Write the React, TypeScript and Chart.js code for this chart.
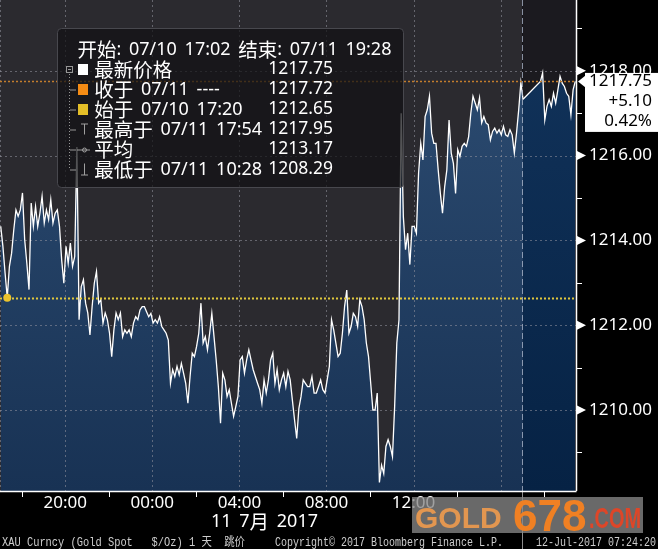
import React, { useEffect, useRef } from 'react';
import { Chart, registerables } from 'chart.js';

Chart.register(...registerables);

// ---- data (minutes are counted from 07/10 17:00) ----
const START_MIN = 2; // 17:02
const STEP_MIN = 6;
const prices: (number | null)[] = [
  1214.33, 1213.86, 1213.23, 1212.65, 1213.39, 1213.70, 1214.25, 1214.72, 1214.57, 1214.72,
  1215.12, 1214.02, 1213.46, 1212.84, 1214.88, 1214.33, 1214.80, 1214.33, 1214.64, 1215.04,
  1214.41, 1214.72, 1214.49, 1214.96, 1214.41, 1214.64, 1214.72, 1214.33, 1213.54, 1212.99,
  1213.86, 1213.46, 1213.94, 1213.39, 1213.62, 1216.20, 1212.13, 1212.91, 1213.07, 1212.52,
  1212.29, 1211.77, 1212.44, 1212.99, 1213.27, 1212.52, 1212.60, 1212.05, 1212.29, 1212.13,
  1211.81, 1211.26, 1211.89, 1212.29, 1212.13, 1212.29, 1211.73, 1211.89, 1211.81, 1211.89,
  1211.73, 1212.05, 1212.20, 1212.13, 1212.36, 1212.44, 1212.44, 1212.32, 1212.20, 1212.28,
  1212.05, 1212.13, 1212.05, 1212.20, 1211.97, 1211.89, 1211.81, 1211.65, 1210.63, 1210.95,
  1210.79, 1211.03, 1210.83, 1211.10, 1210.87, 1210.63, 1210.16, 1210.79, 1211.34, 1211.26,
  1211.50, 1211.81, 1212.52, 1211.58, 1211.73, 1211.42, 1211.81, 1212.28, 1211.73, 1211.18,
  1210.55, 1209.69, 1210.87, 1210.71, 1210.32, 1210.48, 1210.16, 1209.85, 1210.08, 1210.32,
  1211.18, 1211.26, 1210.87, 1211.18, 1211.42, 1211.18, 1210.95, 1210.79, 1210.63, 1210.48,
  1210.16, 1210.71, 1210.40, 1210.71, 1211.18, 1211.34, 1210.63, 1210.95, 1210.48, 1210.71,
  1210.87, 1210.55, 1210.91, 1210.71, 1210.24, 1209.77, 1209.33, 1210.04, 1210.32, 1210.71,
  1210.63, 1210.55, 1210.55, 1210.79, 1210.40, 1210.40, 1210.55, 1210.71, 1210.48, 1210.40,
  1210.71, 1211.03, 1212.13, 1211.89, 1211.58, 1211.26, 1211.34, 1211.81, 1212.44, 1212.83,
  1211.81, 1211.97, 1212.28, 1212.20, 1211.97, 1212.60, 1212.44, 1212.13, 1211.58, 1211.26,
  1210.63, 1210.00, 1210.00, 1210.40, 1208.29, 1208.70, 1208.50, 1209.14, 1209.30, 1209.14,
  1208.90, 1210.08, 1211.58, 1212.13, 1217.00, 1214.56, 1213.78, 1214.17, 1213.43, 1214.33,
  1214.33, 1214.17, 1215.59, 1216.29, 1215.90, 1216.92, 1217.08, 1217.40, 1216.53, 1216.29,
  1216.29, 1215.67, 1215.11, 1214.64, 1215.27, 1215.67, 1216.84, 1216.06, 1215.82, 1215.11,
  1216.14, 1215.98, 1216.22, 1216.29, 1216.22, 1216.45, 1217.00, 1217.40, 1217.24, 1217.08,
  1217.36, 1216.77, 1216.92, 1216.77, 1216.73, 1216.37, 1216.57, 1216.65, 1216.53, 1216.61,
  1216.49, 1216.69, 1216.49, 1216.45, 1216.61, 1216.49, 1216.06, 1216.53, 1217.08, 1217.72,
  1217.33, null, null, null, null, null, null, null, 1217.75, 1217.95,
  1216.84, 1217.16, 1217.32, 1217.16, 1217.47, 1217.24, 1217.55, 1217.87, 1217.71, 1217.63,
  1217.47, 1217.40, 1216.96, 1217.55, 1217.75,
];
const BREAK_INDEX = 240;

const X_MIN = 0;
const X_MAX = 1588;
const Y_MIN = 1208.09;
const Y_MAX = 1219.67;

const xLabelMinutes = [180, 420, 660, 900, 1140];
const xLabels = ['20:00', '00:00', '04:00', '08:00', '12:00'];
const xGridMinutes = [0, 180, 420, 660, 900, 1140, 1380];
const xTickMarkMinutes = [60, 300, 540, 780, 1020, 1260, 1500];
const sessionBreakMinute = 1440;

const yLabelValues = [1210, 1212, 1214, 1216, 1218];
const yMinorTicks = [1209, 1211, 1213, 1215, 1217, 1219];

const openMinute = 20;
const openPrice = 1212.65;
const lastPrice = 1217.75;

const legendHeader = '开始: 07/10 17:02 结束: 07/11 19:28';
const legendLabels = ['最新价格', '收于 07/11 ----', '始于 07/10 17:20', '最高于 07/11 17:54', '平均', '最低于 07/11 10:28'];
const legendValues = ['1217.75', '1217.72', '1212.65', '1217.95', '1213.17', '1208.29'];
const legendSwatches = ['#ffffff', 'rgb(245,140,20)', 'rgb(228,190,40)'];
const priceBoxLines = ['1217.75', '+5.10', '0.42%'];
const dateLabel = '11 7月 2017';
const footerLeft = 'XAU Curncy (Gold Spot   $/Oz) 1 天  跳价';
const footerMid = 'Copyright© 2017 Bloomberg Finance L.P.';
const footerRight = '12-Jul-2017 07:24:20';

const FONT = '"Noto Sans", "Noto Sans CJK SC", sans-serif';
const LATIN_FONT = '18px "Noto Sans", sans-serif';
const CJK_FONT = '19.5px "Noto Sans CJK SC", sans-serif';
const WORD_GAP = 7.7;

function leftPoints() {
  const pts: { x: number; y: number | null }[] = [];
  for (let i = 0; i <= BREAK_INDEX; i++) pts.push({ x: START_MIN + STEP_MIN * i, y: prices[i] });
  return pts;
}
function rightPoints() {
  const pts: { x: number; y: number | null }[] = [];
  for (let i = BREAK_INDEX; i < prices.length; i++) pts.push({ x: START_MIN + STEP_MIN * i, y: prices[i] });
  return pts;
}

function gradientFill(top: string, bottom: string, fallback: string) {
  return (c: any) => {
    const chart = c.chart;
    const a = chart.chartArea;
    if (!a) return fallback;
    const g = chart.ctx.createLinearGradient(0, a.top, 0, a.bottom);
    g.addColorStop(0, top);
    g.addColorStop(1, bottom);
    return g;
  };
}

const isCJK = (ch: string) => /[\u3000-\u9fff\uff00-\uffef]/.test(ch);

// draw a string word by word, CJK runs in the CJK face, others in the Latin face
function drawRich(ctx: CanvasRenderingContext2D, text: string, x: number, y: number) {
  let cx = x;
  const words = text.split(' ');
  words.forEach((w, wi) => {
    let run = '';
    let runCJK: boolean | null = null;
    const flush = () => {
      if (!run) return;
      ctx.font = runCJK ? CJK_FONT : LATIN_FONT;
      ctx.fillText(run, cx, y);
      cx += ctx.measureText(run).width;
      run = '';
    };
    for (const ch of w) {
      const c = isCJK(ch);
      if (runCJK !== null && c !== runCJK) flush();
      runCJK = c;
      run += ch;
    }
    flush();
    if (wi < words.length - 1) cx += WORD_GAP;
  });
}

const overlayPlugin = {
  id: 'bbgOverlay',
  beforeDraw(chart: any) {
    const { ctx, chartArea: a } = chart;
    const x = chart.scales.x;
    ctx.save();
    ctx.fillStyle = '#000';
    ctx.fillRect(0, 0, chart.width, chart.height);
    const xb = x.getPixelForValue(sessionBreakMinute);
    ctx.fillStyle = 'rgb(43,42,47)';
    ctx.fillRect(a.left, a.top, xb - a.left, a.bottom - a.top);
    ctx.fillStyle = 'rgb(27,26,31)';
    ctx.fillRect(xb, a.top, a.right - xb, a.bottom - a.top);
    ctx.restore();
  },
  beforeDatasetsDraw(chart: any) {
    const { ctx, chartArea: a } = chart;
    const x = chart.scales.x;
    const y = chart.scales.y;
    ctx.save();
    ctx.beginPath();
    ctx.rect(a.left, a.top, a.right - a.left, a.bottom - a.top);
    ctx.clip();
    ctx.strokeStyle = 'rgba(150,150,160,0.55)';
    ctx.lineWidth = 1;
    ctx.setLineDash([2, 3]);
    for (const v of yLabelValues) {
      const py = Math.round(y.getPixelForValue(v)) + 0.5;
      ctx.beginPath();
      ctx.moveTo(a.left, py);
      ctx.lineTo(a.right, py);
      ctx.stroke();
    }
    for (const m of xGridMinutes) {
      const px = Math.round(x.getPixelForValue(m)) + 0.5;
      ctx.beginPath();
      ctx.moveTo(px, a.top);
      ctx.lineTo(px, a.bottom);
      ctx.stroke();
    }
    ctx.restore();
  },
  afterDatasetsDraw(chart: any) {
    const { ctx, chartArea: a } = chart;
    const x = chart.scales.x;
    const y = chart.scales.y;
    ctx.save();
    // session break
    const xb = Math.round(x.getPixelForValue(sessionBreakMinute)) + 0.5;
    ctx.strokeStyle = 'rgba(175,185,205,0.75)';
    ctx.lineWidth = 1;
    ctx.setLineDash([6, 3]);
    ctx.beginPath();
    ctx.moveTo(xb, a.top);
    ctx.lineTo(xb, a.bottom);
    ctx.stroke();
    ctx.setLineDash([]);
    ctx.strokeStyle = 'rgba(200,200,200,0.7)';
    ctx.beginPath();
    ctx.moveTo(xb, a.bottom);
    ctx.lineTo(xb, chart.height);
    ctx.stroke();

    // reference lines
    const yo = Math.round(y.getPixelForValue(openPrice)) + 0.5;
    ctx.setLineDash([2, 2]);
    ctx.lineWidth = 2;
    ctx.strokeStyle = 'rgb(225,200,60)';
    ctx.beginPath();
    ctx.moveTo(a.left, yo);
    ctx.lineTo(a.right, yo);
    ctx.stroke();
    const yl = Math.round(y.getPixelForValue(lastPrice)) + 0.5;
    ctx.lineWidth = 1.5;
    ctx.strokeStyle = 'rgb(195,125,45)';
    ctx.beginPath();
    ctx.moveTo(a.left, yl);
    ctx.lineTo(a.right, yl);
    ctx.stroke();
    ctx.setLineDash([]);
    ctx.fillStyle = 'rgb(235,195,45)';
    ctx.beginPath();
    ctx.arc(x.getPixelForValue(openMinute), y.getPixelForValue(openPrice), 4, 0, Math.PI * 2);
    ctx.fill();

    // axis lines
    ctx.strokeStyle = '#fff';
    ctx.lineWidth = 1.5;
    ctx.beginPath();
    ctx.moveTo(a.right + 0.5, 0);
    ctx.lineTo(a.right + 0.5, a.bottom);
    ctx.moveTo(a.left, a.bottom + 0.5);
    ctx.lineTo(a.right + 0.5, a.bottom + 0.5);
    ctx.stroke();
    ctx.lineWidth = 1;
    for (const v of yMinorTicks) {
      const py = Math.round(y.getPixelForValue(v)) + 0.5;
      ctx.beginPath();
      ctx.moveTo(a.right, py);
      ctx.lineTo(a.right + 6, py);
      ctx.stroke();
    }
    for (const m of xTickMarkMinutes) {
      const px = Math.round(x.getPixelForValue(m)) + 0.5;
      ctx.beginPath();
      ctx.moveTo(px, a.bottom);
      ctx.lineTo(px, a.bottom + 6);
      ctx.stroke();
    }
    ctx.fillStyle = '#fff';
    for (const v of yLabelValues) {
      const py = y.getPixelForValue(v);
      ctx.beginPath();
      ctx.moveTo(a.right + 1, py - 4.5);
      ctx.lineTo(a.right + 1, py + 4.5);
      ctx.lineTo(a.right + 10, py);
      ctx.closePath();
      ctx.fill();
    }

    // legend box
    const bx = 57, by = 28, bw = 346, bh = 159;
    ctx.fillStyle = 'rgba(16,16,19,0.72)';
    ctx.strokeStyle = 'rgb(72,72,78)';
    ctx.beginPath();
    ctx.roundRect(bx + 0.5, by + 0.5, bw, bh, 4);
    ctx.fill();
    ctx.stroke();
    ctx.textBaseline = 'middle';
    ctx.textAlign = 'left';
    ctx.fillStyle = '#fff';
    drawRich(ctx, legendHeader, 77.5, 49.5);
    // tree glyphs
    ctx.strokeStyle = 'rgb(150,150,150)';
    ctx.lineWidth = 1;
    ctx.strokeRect(66.5, 66.5, 6, 6);
    ctx.beginPath();
    ctx.moveTo(68, 69.5);
    ctx.lineTo(71, 69.5);
    ctx.stroke();
    ctx.setLineDash([1, 2]);
    ctx.beginPath();
    ctx.moveTo(69.5, 74);
    ctx.lineTo(69.5, 170);
    ctx.stroke();
    ctx.setLineDash([]);
    for (let k = 0; k < legendLabels.length; k++) {
      const ry = 69.5 + 20 * k;
      if (k > 0) {
        ctx.beginPath();
        ctx.moveTo(70, ry + 0.5);
        ctx.lineTo(76, ry + 0.5);
        ctx.stroke();
      }
      if (k < legendSwatches.length) {
        ctx.fillStyle = legendSwatches[k];
        ctx.fillRect(78, ry - 5.5, 10, 11);
      }
      ctx.fillStyle = '#fff';
      drawRich(ctx, legendLabels[k], 94.3, ry);
      ctx.font = `17.5px "Noto Sans", sans-serif`;
      ctx.fillText(legendValues[k], 268.3, ry);
    }
    // high / avg / low icons
    ctx.strokeStyle = 'rgb(160,160,160)';
    let ry = 69.5 + 60;
    ctx.beginPath();
    ctx.moveTo(81, ry - 5.5);
    ctx.lineTo(88, ry - 5.5);
    ctx.moveTo(84.5, ry - 5.5);
    ctx.lineTo(84.5, ry + 5);
    ctx.stroke();
    ry = 69.5 + 80;
    ctx.beginPath();
    ctx.moveTo(77, ry + 0.5);
    ctx.lineTo(90, ry + 0.5);
    ctx.stroke();
    ctx.beginPath();
    ctx.arc(84.5, ry + 0.5, 2, 0, Math.PI * 2);
    ctx.stroke();
    ry = 69.5 + 100;
    ctx.beginPath();
    ctx.moveTo(84.5, ry - 6);
    ctx.lineTo(84.5, ry + 5.5);
    ctx.moveTo(81, ry + 5.5);
    ctx.lineTo(88, ry + 5.5);
    ctx.stroke();
    ctx.restore();
  },
  afterDraw(chart: any) {
    const { ctx, chartArea: a } = chart;
    const y = chart.scales.y;
    ctx.save();
    // last price box
    const yl = y.getPixelForValue(lastPrice);
    ctx.fillStyle = '#fff';
    ctx.fillRect(a.right + 9, yl - 8.5, chart.width - a.right - 9, 59);
    ctx.beginPath();
    ctx.moveTo(a.right + 2, yl);
    ctx.lineTo(a.right + 9.5, yl - 6);
    ctx.lineTo(a.right + 9.5, yl + 6);
    ctx.closePath();
    ctx.fill();
    ctx.fillStyle = '#000';
    ctx.font = `17px ${FONT}`;
    ctx.textAlign = 'right';
    ctx.textBaseline = 'middle';
    priceBoxLines.forEach((t, k) => ctx.fillText(t, 652, yl + 20 * k));

    // date label
    ctx.fillStyle = '#fff';
    ctx.textAlign = 'left';
    drawRich(ctx, dateLabel, 211, 522);

    // footer
    ctx.fillStyle = 'rgb(205,205,205)';
    ctx.textAlign = 'left';
    ctx.textBaseline = 'alphabetic';
    ctx.font = '12px "Liberation Mono", "Noto Sans CJK SC", monospace';
    ctx.fillText(footerLeft, 2, 546, 243);
    ctx.fillText(footerMid, 275, 546, 228);
    ctx.textAlign = 'right';
    ctx.fillText(footerRight, 656, 546, 120);

    // watermark
    ctx.fillStyle = 'rgba(135,135,135,0.78)';
    ctx.fillRect(412, 497, 231, 36);
    ctx.textAlign = 'left';
    ctx.font = 'bold 30px "Liberation Sans", sans-serif';
    ctx.fillStyle = 'rgb(226,150,80)';
    ctx.fillText('GOLD', 415, 528, 96);
    ctx.font = 'bold 44px "Liberation Sans", sans-serif';
    ctx.fillStyle = 'rgb(240,128,35)';
    ctx.fillText('678', 513, 531, 76);
    ctx.font = 'bold 30px "Liberation Sans", sans-serif';
    ctx.fillStyle = 'rgb(222,70,40)';
    ctx.fillText('.COM', 589, 528, 52);
    ctx.restore();
  },
};

export default function App() {
  const ref = useRef<HTMLCanvasElement | null>(null);
  useEffect(() => {
    if (!ref.current) return;
    const chart = new Chart(ref.current, {
      type: 'line',
      data: {
        datasets: [
          {
            data: leftPoints() as any,
            borderColor: '#ffffff',
            borderWidth: 1.3,
            pointRadius: 0,
            tension: 0,
            spanGaps: true,
            fill: 'start',
            backgroundColor: gradientFill('rgb(46,78,116)', 'rgb(24,50,84)', 'rgb(32,62,98)'),
          },
          {
            data: rightPoints() as any,
            borderColor: '#ffffff',
            borderWidth: 1.3,
            pointRadius: 0,
            tension: 0,
            spanGaps: true,
            fill: 'start',
            backgroundColor: gradientFill('rgb(18,52,92)', 'rgb(6,34,68)', 'rgb(12,42,80)'),
          },
        ],
      },
      options: {
        animation: false,
        responsive: false,
        devicePixelRatio: 1,
        events: [],
        layout: { padding: 0 },
        plugins: {
          legend: { display: false },
          tooltip: { enabled: false },
          filler: { drawTime: 'beforeDatasetsDraw' },
        } as any,
        scales: {
          x: {
            type: 'linear',
            min: X_MIN,
            max: X_MAX,
            grid: { display: false, drawTicks: false },
            border: { display: false },
            afterBuildTicks: (s: any) => {
              s.ticks = xLabelMinutes.map((v) => ({ value: v }));
            },
            afterFit: (s: any) => {
              s.height = 58;
              s.paddingLeft = 0;
              s.paddingRight = 0;
            },
            ticks: {
              autoSkip: false,
              maxRotation: 0,
              minRotation: 0,
              padding: 2,
              color: '#ffffff',
              font: { family: FONT, size: 17 },
              callback: (v: any) => {
                const k = xLabelMinutes.indexOf(Number(v));
                return k >= 0 ? xLabels[k] : '';
              },
            },
          },
          y: {
            type: 'linear',
            position: 'right',
            min: Y_MIN,
            max: Y_MAX,
            grid: { display: false, drawTicks: false },
            border: { display: false },
            afterBuildTicks: (s: any) => {
              s.ticks = yLabelValues.map((v) => ({ value: v }));
            },
            afterFit: (s: any) => {
              s.width = 82;
              s.paddingTop = 0;
              s.paddingBottom = 0;
            },
            ticks: {
              padding: 13,
              color: '#ffffff',
              font: { family: FONT, size: 17 },
              callback: (v: any) => Number(v).toFixed(2),
            },
          },
        },
      },
      plugins: [overlayPlugin],
    });
    return () => chart.destroy();
  }, []);
  return (
    <div style={{ position: 'fixed', left: 0, top: 0, width: 658, height: 549, background: '#000' }}>
      <canvas ref={ref} width={658} height={549} style={{ display: 'block', width: 658, height: 549 }} />
    </div>
  );
}
